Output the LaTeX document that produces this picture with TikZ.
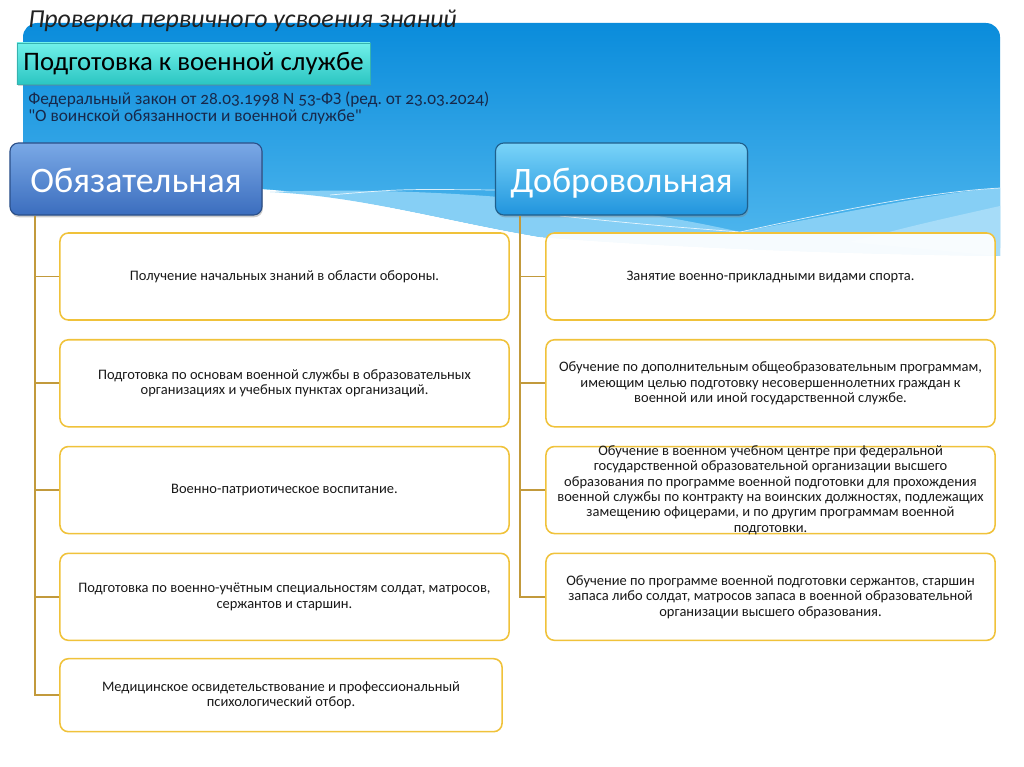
\documentclass[tikz,border=0pt]{standalone}
\usepackage{fontspec}
\setmainfont{Carlito}
\newfontfamily\lawfont{Carlito}[Numbers=OldStyle]
\usepackage{xcolor}
\usepackage{tikz}
\usetikzlibrary{positioning,shadows}
\frenchspacing
\definecolor{skytop}{HTML}{0A8CDB}
\definecolor{skybot}{HTML}{55BAEF}
\definecolor{bandblue}{HTML}{86CFF5}
\definecolor{bandlite}{HTML}{A6DCF8}
\definecolor{titlegray}{HTML}{222222}
\definecolor{lawblue}{HTML}{17284A}
\definecolor{tealtop}{HTML}{70F0EA}
\definecolor{tealbot}{HTML}{2CC6C2}
\definecolor{tealedge}{HTML}{36B3AF}
\definecolor{mandtop}{HTML}{7AA9E6}
\definecolor{mandbot}{HTML}{3B6DBE}
\definecolor{mandedge}{HTML}{2B4F88}
\definecolor{voltop}{HTML}{7AD4F9}
\definecolor{volbot}{HTML}{2094DD}
\definecolor{voledge}{HTML}{1F5F8C}
\definecolor{itemgold}{HTML}{F0C23A}
\definecolor{linkgold}{HTML}{C29A3C}

\begin{document}
\begin{tikzpicture}[
    x=0.025cm, y=-0.025cm,
    node distance=0.455cm,
    topicbox/.style={
        draw=tealedge,
        top color=tealtop,
        bottom color=tealbot,
        minimum width=8.825cm,
        minimum height=1.025cm,
        inner sep=0pt,
        font=\fontsize{19}{21}\selectfont,
        drop shadow={opacity=0.35, shadow xshift=0.6pt, shadow yshift=-1.6pt}
    },
    headbox/.style={
        rounded corners=6pt,
        line width=0.8pt,
        minimum width=6.3cm,
        minimum height=1.8cm,
        text height=22pt,
        text depth=3.5pt,
        text=white,
        font=\fontsize{25.5}{27}\selectfont,
        drop shadow={opacity=0.4, shadow xshift=0.6pt, shadow yshift=-1.6pt}
    },
    item/.style={
        draw=itemgold,
        line width=1.1pt,
        rounded corners=6pt,
        fill=white,
        fill opacity=0.93,
        text opacity=1,
        minimum width=11.225cm,
        minimum height=2.175cm,
        align=center,
        text=black!90,
        font=\fontsize{10.3}{11}\selectfont
    },
    link/.style={draw=linkgold, line width=1.4pt}
]
    \useasboundingbox (0,0) rectangle (1024,767);
    \fill[white] (0,0) rectangle (1024,767);

    % sky background with the wave
    \shade[top color=skytop, bottom color=skybot, rounded corners=10pt]
        (23,23) rectangle (1000,262);
    \fill[white] (20,188) -- (260,189) .. controls (360,196) and (450,222) .. (540,237)
        .. controls (700,250) and (900,255) .. (1003,256) -- (1003,270) -- (20,270) -- cycle;
    \fill[bandblue] (270,192) .. controls (420,186) and (600,200) .. (740,232)
        .. controls (850,212) and (940,192) .. (1000,188) -- (1000,256)
        .. controls (900,255) and (700,250) .. (540,237)
        .. controls (450,222) and (360,196) .. (270,192) -- cycle;
    \fill[bandlite] (850,242) .. controls (920,224) .. (1000,206) -- (1000,256) -- cycle;
    \draw[white, line width=0.5pt, opacity=0.8] (330,195) .. controls (400,189) .. (495,190);
    \draw[white, line width=0.5pt, opacity=0.8] (560,216) .. controls (650,225) .. (740,232)
        .. controls (850,208) and (930,192) .. (1000,188);

    % headings
    \node[anchor=base west, inner sep=0pt, text=titlegray,
        font=\itshape\fontsize{18.4}{20}\selectfont] (title) at (28,28)
        {Проверка первичного усвоения знаний};
    \node[topicbox] (topic) at (193.5,63.5) {Подготовка к военной службе};
    \node[anchor=north west, align=left, inner sep=0pt, text=lawblue,
        font=\lawfont\fontsize{12.3}{11.5}\selectfont] (law) at (28,92)
        {Федеральный закон от 28.03.1998 N 53-ФЗ (ред. от 23.03.2024)\\
         "О воинской обязанности и военной службе"};

    \node[headbox, draw=mandedge, top color=mandtop, bottom color=mandbot] (mand)
        at (136,179) {Обязательная};
    \node[headbox, draw=voledge, top color=voltop, bottom color=volbot] (vol)
        at (621.5,179) {Добровольная};

    % mandatory
    \node[item] (m1) at (284.5,276.5) {Получение начальных знаний в области обороны.};
    \node[item, below=of m1] (m2)
        {Подготовка по основам военной службы в образовательных\\
         организациях и учебных пунктах организаций.};
    \node[item, below=of m2] (m3) {Военно-патриотическое воспитание.};
    \node[item, below=of m3] (m4)
        {Подготовка по военно-учётным специальностям солдат, матросов,\\
         сержантов и старшин.};
    \node[item, minimum width=11.05cm, minimum height=1.825cm,
        below=0.42cm of m4.south west, anchor=north west] (m5)
        {Медицинское освидетельствование и профессиональный\\
         психологический отбор.};

    % voluntary
    \node[item] (v1) at (770.5,276.5) {Занятие военно-прикладными видами спорта.};
    \node[item, below=of v1] (v2)
        {Обучение по дополнительным общеобразовательным программам,\\
         имеющим целью подготовку несовершеннолетних граждан к\\
         военной или иной государственной службе.};
    \node[item, inner ysep=-2pt, below=of v2] (v3)
        {Обучение в военном учебном центре при федеральной\\
         государственной образовательной организации высшего\\
         образования по программе военной подготовки для прохождения\\
         военной службы по контракту на воинских должностях, подлежащих\\
         замещению офицерами, и по другим программам военной\\
         подготовки.};
    \node[item, below=of v3] (v4)
        {Обучение по программе военной подготовки сержантов, старшин\\
         запаса либо солдат, матросов запаса в военной образовательной\\
         организации высшего образования.};

    \coordinate (mtrunk) at ([xshift=0.65cm]mand.south west);
    \coordinate (vtrunk) at ([xshift=0.625cm]vol.south west);

    \draw[link] (mtrunk) |- (m5.west);
    \draw[link] (mtrunk |- m1.west) -- (m1.west);
    \draw[link] (mtrunk |- m2.west) -- (m2.west);
    \draw[link] (mtrunk |- m3.west) -- (m3.west);
    \draw[link] (mtrunk |- m4.west) -- (m4.west);

    \draw[link] (vtrunk) |- (v4.west);
    \draw[link] (vtrunk |- v1.west) -- (v1.west);
    \draw[link] (vtrunk |- v2.west) -- (v2.west);
    \draw[link] (vtrunk |- v3.west) -- (v3.west);
\end{tikzpicture}
\end{document}
